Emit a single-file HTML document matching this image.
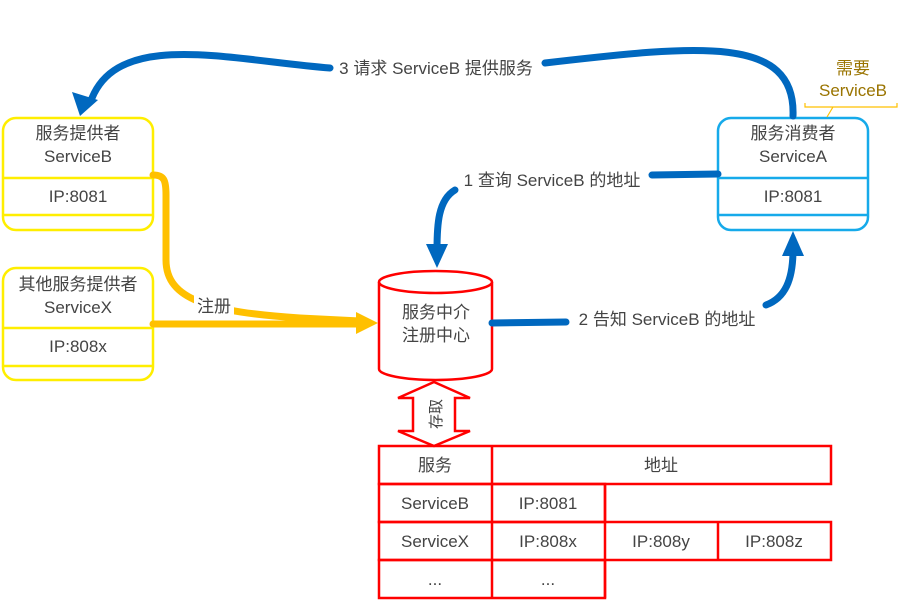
<!DOCTYPE html>
<html><head><meta charset="utf-8"><style>
body{margin:0;background:#fff;}
svg text{font-family:"Liberation Sans","Noto Sans CJK SC",sans-serif;font-size:17px;fill:#444;}
</style></head><body>
<svg width="900" height="600" viewBox="0 0 900 600" xmlns="http://www.w3.org/2000/svg">
<g fill="none" stroke="#ffee00" stroke-width="2.5">
<rect x="3" y="118" width="150" height="112" rx="13"/>
<line x1="3" y1="178" x2="153" y2="178"/><line x1="3" y1="215" x2="153" y2="215"/>
<rect x="3" y="268" width="150" height="112" rx="13"/>
<line x1="3" y1="328" x2="153" y2="328"/><line x1="3" y1="366" x2="153" y2="366"/>
</g>
<text x="78" y="139" text-anchor="middle">服务提供者</text>
<text x="78" y="162" text-anchor="middle">ServiceB</text>
<text x="78" y="202" text-anchor="middle">IP:8081</text>
<text x="78" y="290" text-anchor="middle">其他服务提供者</text>
<text x="78" y="313" text-anchor="middle">ServiceX</text>
<text x="78" y="352" text-anchor="middle">IP:808x</text>
<g fill="none" stroke="#16aaea" stroke-width="2.5">
<rect x="718" y="118" width="150" height="112" rx="13"/>
<line x1="718" y1="178" x2="868" y2="178"/><line x1="718" y1="215" x2="868" y2="215"/>
</g>
<text x="793" y="139" text-anchor="middle">服务消费者</text>
<text x="793" y="162" text-anchor="middle">ServiceA</text>
<text x="793" y="202" text-anchor="middle">IP:8081</text>
<text x="853" y="74" text-anchor="middle" style="fill:#9a7400">需要</text>
<text x="853" y="96" text-anchor="middle" style="fill:#9a7400">ServiceB</text>
<path d="M805,103 V107 H897 V103 M833,107 L827,117" fill="none" stroke="#ffc000" stroke-width="1.2"/>
<g fill="#fff" stroke="#f00" stroke-width="2.5">
<path d="M379,282 V369 A56.5,11 0 0 0 492,369 V282"/>
<ellipse cx="435.5" cy="282" rx="56.5" ry="11"/>
</g>
<text x="436" y="318" text-anchor="middle">服务中介</text>
<text x="436" y="341" text-anchor="middle">注册中心</text>
<path d="M434,382 L470,398 H455 V431 H470 L434,446 L398,431 H413 V398 H398 Z" fill="#fff" stroke="#f00" stroke-width="2.5"/>
<text x="0" y="0" transform="translate(441,414) rotate(-90)" text-anchor="middle" style="font-size:15px">存取</text>
<g fill="none" stroke="#f00" stroke-width="2.5">
<rect x="379" y="446" width="452" height="38"/>
<line x1="492" y1="446" x2="492" y2="598"/>
<rect x="379" y="484" width="226" height="38"/>
<rect x="379" y="522" width="452" height="38"/>
<line x1="718" y1="522" x2="718" y2="560"/>
<rect x="379" y="560" width="226" height="38"/>
<line x1="605" y1="484" x2="605" y2="598"/>
</g>
<g text-anchor="middle">
<text x="435" y="471">服务</text><text x="661" y="471">地址</text>
<text x="435" y="509">ServiceB</text><text x="548" y="509">IP:8081</text>
<text x="435" y="547">ServiceX</text><text x="548" y="547">IP:808x</text>
<text x="661" y="547">IP:808y</text><text x="774" y="547">IP:808z</text>
<text x="435" y="585">...</text><text x="548" y="585">...</text>
</g>
<g fill="none" stroke="#ffc000" stroke-width="7" stroke-linecap="round">
<path d="M153,175 C164,175 166,180 166,195 L166,260 C166,300 210,312 300,318 L360,321"/>
<path d="M153,324 L360,324"/>
</g>
<path d="M378,323 L356,312 L356,334 Z" fill="#ffc000"/>
<rect x="194" y="295" width="40" height="22" fill="#fff"/>
<text x="214" y="312" text-anchor="middle">注册</text>
<g fill="none" stroke="#0068bf" stroke-width="7" stroke-linecap="round">
<path d="M793,116 C796,35 700,45 545,63"/>
<path d="M330,68 C230,60 120,30 92,98"/>
<path d="M718,174 L652,175"/>
<path d="M455,190 C438,200 437,225 437,250"/>
<path d="M492,323 L566,322"/>
<path d="M766,305 C785,298 793,280 793,250"/>
</g>
<path d="M80,116 L72,92 L98,100 Z" fill="#0068bf"/>
<path d="M437,268 L426,244 L448,244 Z" fill="#0068bf"/>
<path d="M793,231 L782,256 L804,256 Z" fill="#0068bf"/>
<text x="436" y="74" text-anchor="middle">3 请求 ServiceB 提供服务</text>
<text x="552" y="186" text-anchor="middle">1 查询 ServiceB 的地址</text>
<text x="667" y="325" text-anchor="middle">2 告知 ServiceB 的地址</text>
</svg>
</body></html>
